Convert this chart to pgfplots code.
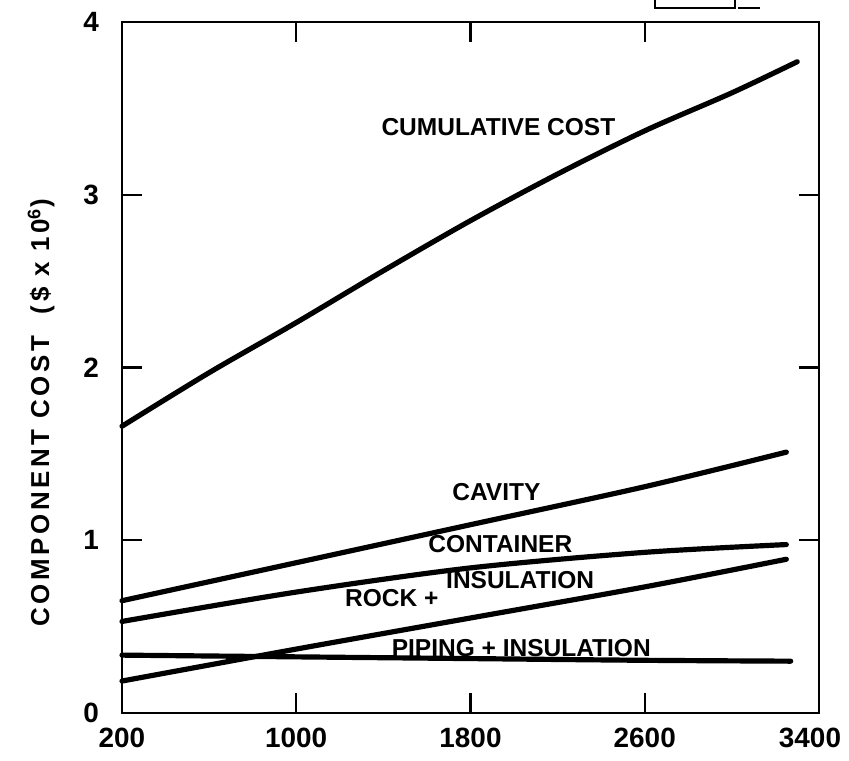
\documentclass[border=0pt]{standalone}
\usepackage{fontspec}
\setmainfont{Liberation Sans}
\usepackage{pgfplots}
\pgfplotsset{compat=1.18}
\begin{document}
\begin{tikzpicture}
\useasboundingbox (-61bp,-24bp) rectangle (363.5bp,356.5bp);
\begin{axis}[
  at={(0,0)}, anchor=south west,
  scale only axis, width=348.5bp, height=345.5bp,
  xmin=200, xmax=3400, ymin=0, ymax=4,
  xtick={200,1000,1800,2600},
  extra x ticks={3400},
  extra x tick style={xticklabel style={xshift=-4.5bp}},
  ytick={0,1,2,3,4},
  /pgf/number format/assume math mode=true,
  /pgf/number format/1000 sep={},
  tick align=inside, tick pos=both,
  xticklabel pos=bottom, yticklabel pos=left,
  major tick length=10bp,
  every tick/.style={line width=1.2pt, black},
  axis line style={line width=1.4pt},
  ticklabel style={font=\fontsize{14}{16}\selectfont\bfseries},
  yticklabel style={xshift=-8bp},
  xticklabel style={yshift=-4bp},
  ylabel={COMPONENT COST \ (\$ x 10$^{\mathbf{6}}$)},
  ylabel style={at={(axis description cs:-0.116,0.434)}, anchor=center, rotate=0,
    font=\fontsize{13}{15}\selectfont\bfseries\addfontfeature{LetterSpace=14}},
  clip=false,
]
\pgfplotsset{curve/.style={black, line width=2.6pt, line cap=round, smooth, no markers}}
% Cumulative cost
\addplot[curve] coordinates {(200,1.66) (600,1.97) (1000,2.26) (1400,2.56) (1800,2.85) (2200,3.12) (2600,3.37) (3000,3.59) (3300,3.77)};
% Cavity
\addplot[curve] coordinates {(200,0.65) (1000,0.87) (1800,1.09) (2600,1.31) (3250,1.51)};
% Container
\addplot[curve] coordinates {(200,0.53) (1000,0.70) (1800,0.84) (2600,0.93) (3250,0.975)};
% Rock + insulation
\addplot[curve] coordinates {(200,0.185) (1000,0.37) (1800,0.55) (2600,0.73) (3250,0.89)};
% Piping + insulation
\addplot[curve] coordinates {(200,0.335) (1000,0.325) (1800,0.315) (2600,0.305) (3270,0.30)};
\begin{scope}[every node/.style={font=\fontsize{12.3}{14}\selectfont\bfseries}]
\node at (axis cs:1928,3.39) {CUMULATIVE COST};
\node at (axis cs:1919,1.28) {CAVITY};
\node at (axis cs:1937,0.976) {CONTAINER};
\node at (axis cs:1439,0.664) {ROCK +};
\node at (axis cs:2028,0.768) {INSULATION};
\node at (axis cs:2033,0.375) {PIPING + INSULATION};
\end{scope}
\end{axis}
\draw[line width=1.2pt] (266.5bp,360bp) -- (266.5bp,352.5bp) -- (306.5bp,352.5bp) -- (306.5bp,360bp);
\draw[line width=1pt] (308bp,352.5bp) -- (319bp,352.5bp);
\end{tikzpicture}
\end{document}
